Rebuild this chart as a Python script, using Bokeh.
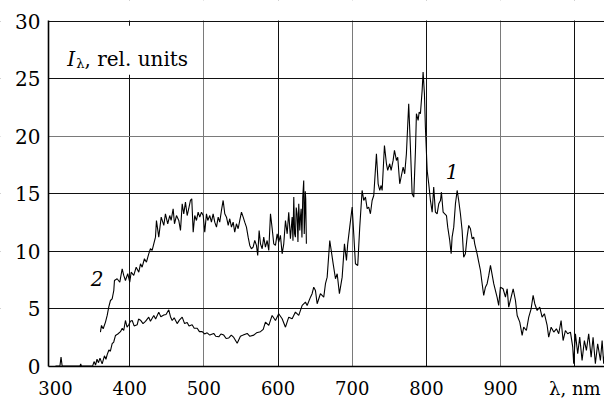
from bokeh.plotting import figure
from bokeh.models import Range1d, FixedTicker, Grid, Label, BoxAnnotation
from bokeh.embed import file_html
from bokeh.resources import INLINE

# ---- data ----
x_ticks = [300, 400, 500, 600, 700, 800, 900, 1000]
x_tick_text = {1000: "λ, nm"}
y_ticks = [0, 5, 10, 15, 20, 25, 30]
x_axis_start = 290.6   # wavelength where the vertical axis stands
y_axis_top = 30.05

# curve 1 (lower, wide spectrum)
lam1 = [300, 306, 307.5, 309, 333, 334, 335, 350, 352, 354, 356, 358, 360, 362.9, 366, 368, 369.7, 372, 374,
        376.4, 378.5, 380.9, 384, 387.6, 390, 392, 394.3, 396.5, 398.8, 401, 403.4, 406, 410.1, 412, 414.6,
        418, 421.3, 425.7, 428, 432.5, 435, 439.2, 442, 446, 449, 452.7, 455, 457.3, 460, 464, 467, 470.8,
        474, 477.5, 480, 484.2, 487, 491, 494, 497.7, 501, 504.4, 508, 513.3, 516, 520.1, 523, 526.8, 530,
        533.6, 537, 540.3, 544.9, 549.3, 553, 558.4, 562, 567.3, 571, 576.3, 580, 583, 587.5, 592, 596.5,
        600.9, 605.5, 610, 614.4, 619, 623.4, 627.9, 632.5, 636.9, 639.2, 643.7, 645.9, 648.1, 650.4, 652.7,
        657.1, 661.6, 663.9, 666.2, 669.7, 674.3, 677.4, 679.7, 682.7, 686.4, 689.5, 692.2, 693.9, 696.6,
        699.9, 702, 704.3, 707.4, 710.1, 713.3, 715.5, 717.8, 720.1, 722.2, 724.5, 726.8, 729, 732.6, 734.9,
        737.1, 738.9, 740.3, 743.4, 746.1, 747.8, 750.5, 752.4, 755.1, 756.9, 759.6, 761.3, 764, 766.3,
        768.6, 770.7, 773, 776.1, 778.4, 780.7, 782.9, 785.2, 786.5, 788.8, 790.2, 791.9, 794.2, 795.5,
        797.3, 798.6, 801, 803.1, 805.4, 807.7, 809.8, 812.1, 814.4, 816.6, 818.9, 820.2, 822.5, 824.7, 827,
        828.7, 831.4, 833.3, 834.6, 836.8, 839.1, 841.4, 843.5, 845.8, 848.1, 850.2, 852.5, 854.8, 857,
        859.3, 861.6, 863.7, 865.1, 868.3, 870.5, 872.8, 875.1, 877.2, 879.5, 881.8, 884, 886.3, 890.7,
        895.2, 897.4, 899.7, 903.3, 906.5, 908.8, 910.9, 914.2, 916.9, 920, 922.3, 925.8, 929, 931.1, 934.7,
        937.9, 941.1, 943.8, 946, 949.2, 952.7, 955.9, 959, 962.7, 964.8, 968.1, 971.6, 975.2, 978.3, 981.5,
        984.2, 987.3, 990.4, 994.1, 997.2, 998.5, 1000.8, 1003.9, 1006.6, 1009.8, 1012.9, 1015.6, 1018.7,
        1022, 1024.6, 1027.7, 1030.8, 1034.5, 1036.8, 1038.9, 1041]
int1 = [0, 0, 0.8, 0, 0, 0.2, 0, 0, 0.4, 0.1, 0.6, 0.3, 0.7, 0.2, 0.9, 0.6, 1.0, 1.4, 1.3,
        1.95, 2.1, 2.67, 2.8, 3.0, 3.3, 3.1, 3.97, 3.4, 3.6, 3.9, 3.97, 3.5, 3.6, 4.1, 4.0,
        3.7, 3.9, 4.26, 3.9, 4.4, 4.1, 4.7, 4.3, 4.45, 4.5, 4.9, 4.3, 3.97, 4.2, 3.7, 4.0, 4.26,
        3.7, 3.8, 3.5, 3.6, 3.3, 3.3, 3.0, 3.0, 2.8, 2.9, 2.7, 2.85, 2.6, 2.55, 2.8, 2.7, 2.4,
        2.45, 2.7, 2.5, 2.0, 2.6, 2.7, 2.85, 2.6, 2.7, 2.9, 3.0, 3.2, 3.83, 3.54, 4.41, 3.97,
        4.56, 4.12, 3.39, 4.26, 4.12, 4.7, 4.41, 5.28, 5.57, 5.28, 6.0, 6.3, 6.87, 6.58, 5.43,
        6.3, 6.0, 7.17, 7.74, 10.93, 8.9, 7.6, 8.04, 6.3, 7.74, 10.64, 9.19, 10.64, 12.09,
        13.83, 11.51, 8.9, 8.76, 12.09, 15.28, 14.41, 14.7, 13.69, 13.83, 13.25, 14.41, 14.84, 18.47, 15.86,
        15.28, 15.71, 15.28, 19.19, 17.6, 17.02, 17.6, 17.02, 17.89, 18.76, 17.89, 18.17, 15.86, 16.58,
        17.3, 16.73, 18.47, 22.82, 19.04, 14.99, 14.7, 18.76, 21.95, 21.37, 22.09, 21.95, 23.97, 25.57,
        23.69, 20.78, 17.0, 15.86, 14.41, 13.39, 15.57, 13.39, 13.25, 14.12, 14.41, 15.13, 13.39, 13.25, 13.1,
        12.09, 10.93, 9.77, 11.22, 12.09, 14.12, 15.28, 14.41, 13.25, 11.8, 9.48, 9.77, 11.22, 12.24,
        11.95, 11.08, 11.22, 10.64, 9.77, 9.05, 8.32, 7.17, 6.15, 6.87, 7.17, 7.89, 8.76, 7.17,
        6.0, 5.28, 6.87, 6.73, 6.0, 6.73, 5.13, 6.0, 6.73, 5.71, 4.41, 3.83, 2.67, 3.39, 3.1,
        4.26, 4.99, 6.15, 5.43, 4.84, 5.13, 4.26, 4.56, 3.54, 2.52, 3.39, 2.96, 3.25, 2.82, 3.97,
        2.23, 3.1, 2.82, 2.96, 1.65, 0.21, 2.82, 1.08, 2.52, 0.5, 2.23, 1.37, 2.82,
        0.78, 2.52, 0.21, 1.95, 0.5, 2.23, 0.21, 1.5]

# curve 2 (upper, short spectrum)
lam2 = [360.6, 362, 364.3, 367.4, 369.7, 371.8, 374.1, 376.4, 378.6, 379.5, 383.1, 386.7, 389.9, 392, 394.3,
        397.4, 400.1, 402, 405.5, 408.8, 412.3, 414.6, 416.8, 419.9, 422.6, 425.7, 428, 430.3, 432.5, 434.8,
        436.1, 439.2, 442.5, 446, 448.2, 451.3, 454, 455.9, 458.6, 460.4, 463.1, 466.2, 468.5, 470.8, 472.9,
        475.2, 477.5, 479.6, 481.9, 483.7, 485.6, 487.7, 490, 492.3, 494.5, 496.8, 499.1, 501.2, 503.5,
        505.3, 508, 510.2, 512.5, 514.7, 517, 519.3, 521.4, 523.7, 526, 528.2, 530.5, 532.8, 534.9, 537.2,
        539.5, 541.6, 543.9, 546.2, 548.4, 550.7, 553, 555.1, 557.4, 559.7, 561.9, 564.1, 566.4, 568.6,
        570.9, 572.6, 574.5, 576.3, 578.6, 580.7, 583, 585.3, 587.5, 589.8, 592.1, 594.2, 596.5, 598.8,
        600.9, 603.2, 605.5, 607.7, 610, 612.3, 614.4, 616.7, 619, 620.1, 621.2, 622.3, 623.4, 624.5, 625.7,
        626.8, 627.9, 629.3, 630.2, 631.1, 632.2, 633.3, 634.6, 635.3, 636, 636.7, 637.3, 638.2]
int2 = [2.96, 3.54, 3.25, 3.83, 4.41, 5.13, 5.71, 5.86, 6.58, 7.45, 7.6, 7.3, 8.47, 7.89, 7.45,
        8.04, 7.3, 8.17, 7.89, 8.61, 8.17, 8.9, 8.61, 9.34, 9.04, 9.77, 10.21, 10.06, 10.64, 11.22,
        12.67, 11.22, 12.96, 12.24, 13.25, 12.38, 13.1, 12.67, 13.69, 12.38, 13.1, 12.67, 11.8, 14.12, 13.25,
        14.26, 13.1, 13.69, 14.41, 14.56, 11.65, 13.1, 12.67, 13.39, 12.96, 13.39, 13.1, 11.65, 13.25,
        12.67, 13.1, 12.52, 13.25, 12.52, 12.09, 12.96, 12.52, 13.54, 14.41, 13.25, 12.96, 12.24, 12.82, 12.09,
        12.52, 11.65, 12.38, 11.95, 12.67, 13.39, 12.96, 12.52, 12.09, 11.22, 10.5, 10.21, 10.35, 10.93,
        10.5, 9.63, 11.8, 10.64, 10.21, 11.22, 10.35, 10.93, 10.06, 13.25, 11.95, 10.64, 10.5, 11.51,
        10.78, 11.37, 9.77, 10.64, 12.67, 11.51, 13.39, 11.08, 12.96, 10.9, 14.7, 11.5, 11.22, 13.8, 13.25,
        10.8, 14.12, 11.8, 13.0, 13.69, 11.2, 14.7, 16.15, 11.5, 12.96, 15.2, 14.56, 10.64]

# ---- figure: frame fills the canvas, both axes pinned inside it ----
p = figure(width=604, height=399, x_range=Range1d(225.9, 1040), y_range=Range1d(-2.9, 31.8),
           output_backend="svg", toolbar_location=None,
           min_border_left=0, min_border_right=0, min_border_top=0, min_border_bottom=0)
p.outline_line_color = None
p.background_fill_color = "white"
p.border_fill_color = "white"

p.xgrid.grid_line_color = None
p.ygrid.grid_line_color = None
for dim, ticks, col in [(0, [400, 600, 800, 1000], "#111111"), (0, [500, 700, 900], "#7a7a7a"),
                        (1, [5, 10, 15, 25, 30], "#111111"), (1, [20], "#7a7a7a")]:
    g = Grid(dimension=dim, ticker=FixedTicker(ticks=ticks), grid_line_color=col, grid_line_width=1,
             level="image")
    p.add_layout(g, "center")

# white strips hiding the grid outside the plotting area (tick-label zones)
for kw in (dict(top=0), dict(right=x_axis_start), dict(bottom=y_axis_top)):
    p.add_layout(BoxAnnotation(fill_color="white", fill_alpha=1.0, line_color=None, level="underlay", **kw))

p.xaxis.ticker = FixedTicker(ticks=x_ticks)
p.xaxis.major_label_overrides = x_tick_text
p.xaxis.fixed_location = 0
p.xaxis.bounds = (x_axis_start, 1040)
p.yaxis.ticker = FixedTicker(ticks=y_ticks)
p.yaxis.fixed_location = x_axis_start
p.yaxis.bounds = (0, y_axis_top)
for ax in (p.xaxis[0], p.yaxis[0]):
    ax.axis_line_color = "black"
    ax.axis_line_width = 1.6
    ax.major_tick_line_color = None
    ax.minor_tick_line_color = None
    ax.major_tick_out = 0
    ax.major_tick_in = 0
    ax.major_label_text_font = "DejaVu Serif"
    ax.major_label_text_color = "black"
p.xaxis.major_label_text_font_size = "18px"
p.yaxis.major_label_text_font_size = "20px"
p.xaxis.major_label_standoff = 12
p.yaxis.major_label_standoff = 8

p.line(lam1, int1, line_color="black", line_width=1.1)
p.line(lam2, int2, line_color="black", line_width=1.1)

# y-axis caption in white box
p.add_layout(BoxAnnotation(left=302, right=488, bottom=25.35, top=29.6,
                           fill_color="white", fill_alpha=1.0, line_color=None))
p.add_layout(Label(x=316, y=26.7, text="I", text_font="DejaVu Serif", text_font_style="italic",
                   text_font_size="20px", text_baseline="alphabetic", text_align="left",
                   text_color="black"))
p.add_layout(Label(x=328, y=26.35, text="λ", text_font="DejaVu Serif",
                   text_font_size="13px", text_baseline="alphabetic", text_align="left",
                   text_color="black"))
p.add_layout(Label(x=339, y=26.7, text=", rel. units", text_font="DejaVu Serif",
                   text_font_size="20px", text_baseline="alphabetic", text_align="left",
                   text_color="black"))

# curve labels
p.add_layout(Label(x=356, y=7.6, text="2", text_font="DejaVu Serif", text_font_style="italic",
                   text_font_size="20px", text_baseline="middle", text_align="center",
                   text_color="black"))
p.add_layout(Label(x=834.5, y=16.9, text="1", text_font="DejaVu Serif", text_font_style="italic",
                   text_font_size="20px", text_baseline="middle", text_align="center",
                   text_color="black"))

open("out.html", "w").write(file_html(p, INLINE))
